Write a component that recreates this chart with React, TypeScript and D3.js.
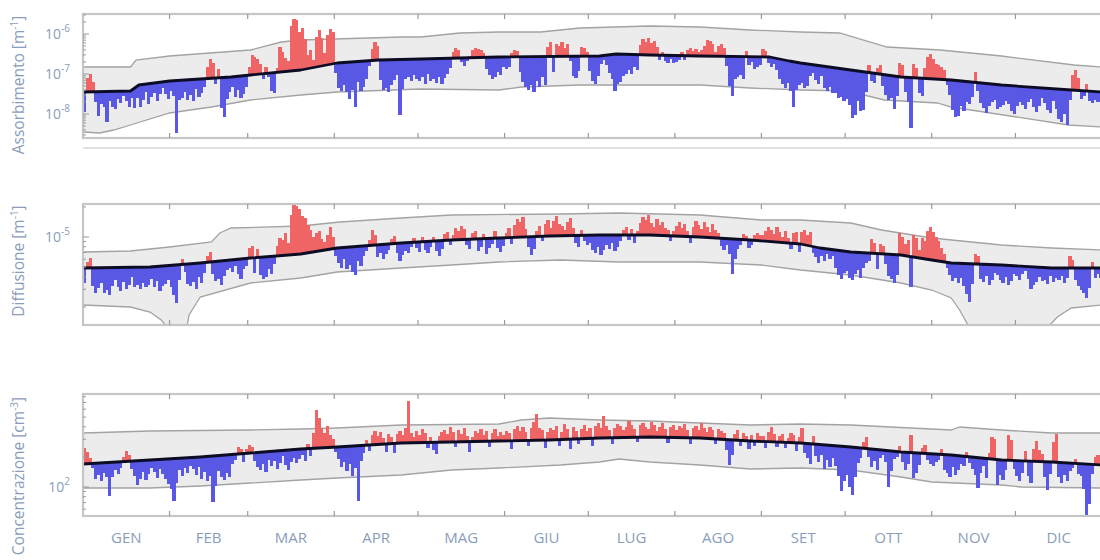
import React from 'react';
import * as d3 from 'd3';

// ---------- calendar ----------
const MONTH_LABELS = ['GEN', 'FEB', 'MAR', 'APR', 'MAG', 'GIU', 'LUG', 'AGO', 'SET', 'OTT', 'NOV', 'DIC'];
const MONTH_START = [0, 31, 59, 90, 120, 151, 181, 212, 243, 273, 304, 334, 365];

// ---------- Assorbimento (log10 of m^-1) ----------
const absorbClimDays = [0, 17, 20, 31, 53, 60, 78, 91, 106, 121, 149, 185, 191, 203, 221, 246, 253, 257, 275, 293, 311, 329, 354, 365];
const absorbClimLog = [-7.45, -7.425, -7.275, -7.175, -7.075, -7.025, -6.9, -6.725, -6.65, -6.625, -6.575, -6.55, -6.5, -6.525, -6.55, -6.575, -6.675, -6.725, -6.9, -7.075, -7.15, -7.275, -7.4, -7.45];
const absorbHighDays = [0, 17, 19, 31, 60, 71, 78, 114, 121, 135, 149, 164, 178, 203, 221, 239, 257, 271, 288, 307, 329, 355, 365];
const absorbHighLog = [-6.825, -6.825, -6.65, -6.55, -6.4, -6.2, -6.15, -6.075, -6.075, -5.975, -5.95, -5.95, -5.85, -5.8, -5.825, -5.9, -5.95, -5.975, -6.325, -6.4, -6.55, -6.775, -6.825];
const absorbLowDays = [0, 6, 11, 17, 31, 46, 60, 78, 91, 121, 149, 157, 178, 221, 239, 257, 274, 287, 306, 311, 353, 365];
const absorbLowLog = [-8.45, -8.475, -8.4, -8.275, -7.975, -7.825, -7.65, -7.525, -7.45, -7.375, -7.4, -7.325, -7.275, -7.275, -7.35, -7.4, -7.425, -7.65, -7.725, -7.825, -8.275, -8.325];
// daily deviation from the climatology, in decades
const absorbDev = [
  -0.5, 0.35, 0.45, 0.25, -0.25, -0.62, -0.3, -0.38, -0.75, -0.25, -0.38, -0.45, -0.2, -0.3, -0.12, -0.25, -0.4, -0.2, -0.5, -0.3, -0.55, -0.38, -0.2, -0.5, -0.35, -0.25, -0.45, -0.3, -0.15, -0.3, -0.45,
  -0.25, -0.38, -1.3, -0.5, -0.45, -0.3, -0.5, -0.38, -0.55, -0.25, -0.45, -0.35, -0.2, 0.3, 0.48, 0.38, -0.15, 0.22, -0.75, -1.0, -0.55, -0.38, -0.25, -0.5, -0.35, -0.55, -0.45, -0.3,
  0.2, 0.5, 0.45, 0.38, 0.25, -0.12, 0.15, -0.1, -0.45, -0.5, 0.12, 0.62, 0.5, 0.35, 0.25, 1.12, 1.3, 1.25, 0.95, 1.05, 0.75, 0.35, 0.45, 0.2, 0.75, 0.92, 0.7, 0.3, 0.75, 0.88, 0.8,
  -0.25, -0.62, -0.7, -0.55, -0.75, -0.92, -0.7, -1.12, -0.5, -0.75, -0.65, -0.45, -0.12, 0.3, 0.45, 0.35, -0.5, -0.75, -0.7, -0.8, -0.62, -0.5, -0.38, -1.38, -0.75, -0.5, -0.45, -0.55, -0.4, -0.5,
  -0.55, -0.45, -0.62, -0.38, -0.55, -0.5, -0.6, -0.45, -0.65, -0.5, -0.38, -0.25, 0.15, 0.25, 0.2, -0.1, -0.2, -0.08, 0.05, 0.2, 0.25, 0.22, 0.18, 0.12, -0.3, -0.45, -0.55, -0.5, -0.38, -0.45, -0.25,
  -0.3, -0.25, 0.1, 0.18, 0.15, -0.38, -0.62, -0.75, -0.82, -0.7, -0.88, -0.62, -0.75, -0.5, -0.7, 0.25, 0.35, -0.38, 0.3, 0.25, 0.35, 0.22, 0.3, -0.12, -0.5, -0.55, -0.38, 0.22, 0.2, 0.1,
  -0.38, -0.62, -0.7, -0.5, -0.2, -0.12, -0.25, -0.45, -0.62, -0.92, -0.75, -0.7, -0.55, -0.5, -0.38, -0.5, -0.3, -0.38, 0.25, 0.4, 0.32, 0.42, 0.3, 0.35, 0.2, -0.12, 0.08, -0.15, -0.2, -0.1, -0.18,
  -0.15, -0.1, 0.08, -0.12, 0.15, 0.2, 0.12, 0.18, 0.1, 0.15, 0.25, 0.4, 0.38, 0.3, 0.1, 0.25, 0.32, 0.2, -0.25, -0.75, -1.0, -0.55, -0.5, -0.45, -0.55, 0.15, -0.2, -0.12, -0.3, -0.25, -0.2,
  0.2, 0.15, -0.15, -0.25, -0.15, -0.3, -0.5, -0.62, -0.7, -0.55, -0.75, -1.12, -0.7, -0.55, -0.5, -0.62, -0.55, -0.3, -0.2, -0.38, -0.45, -0.25, -0.55, -0.62, -0.5, -0.65, -0.62, -0.75, -0.7, -0.8,
  -0.75, -0.88, -1.2, -1.12, -0.75, -1.0, -0.95, -0.5, 0.2, -0.2, -0.25, 0.15, 0.22, -0.3, -0.5, -0.62, -0.55, -0.82, -0.5, 0.35, 0.3, -0.38, -0.62, -1.25, 0.35, 0.25, -0.38, -0.45, 0.25, 0.55, 0.62,
  0.5, 0.38, 0.35, 0.3, 0.25, -0.12, -0.38, -0.75, -0.92, -0.88, -0.62, -0.75, -0.5, -0.55, -0.38, 0.25, -0.2, -0.5, -0.62, -0.75, -0.55, -0.45, -0.38, -0.62, -0.55, -0.5, -0.38, -0.45, -0.62, -0.7,
  -0.5, -0.38, -0.45, -0.55, -0.38, -0.3, -0.5, -0.62, -0.45, -0.25, -0.38, -0.55, -0.62, -0.3, -0.5, -0.75, -0.82, -0.62, -0.88, -0.25, 0.38, 0.5, 0.3, -0.2, -0.12, 0.18, -0.25, -0.3, -0.2, -0.25, -0.15,
];

// ---------- Diffusione (log10 of m^-1) ----------
const scatterClimDays = [0, 24, 42, 60, 78, 91, 114, 132, 149, 167, 185, 203, 221, 239, 257, 264, 275, 293, 304, 311, 329, 347, 365];
const scatterClimLog = [-5.31, -5.3, -5.26, -5.21, -5.17, -5.11, -5.06, -5.03, -5.01, -4.99, -4.98, -4.98, -5.0, -5.03, -5.07, -5.11, -5.15, -5.18, -5.23, -5.26, -5.28, -5.31, -5.31];
const scatterHighDays = [0, 17, 31, 46, 49, 53, 78, 92, 114, 132, 171, 192, 221, 243, 257, 275, 286, 304, 329, 347, 365];
const scatterHighLog = [-5.15, -5.14, -5.1, -5.05, -4.96, -4.91, -4.89, -4.85, -4.81, -4.78, -4.77, -4.76, -4.78, -4.83, -4.83, -4.86, -4.93, -5.01, -5.08, -5.11, -5.13];
const scatterLowDays = [0, 17, 24, 28, 31, 37, 38, 42, 60, 78, 91, 114, 132, 149, 171, 192, 221, 243, 257, 275, 293, 304, 311, 314, 318, 329, 343, 349, 354, 365];
const scatterLowLog = [-5.68, -5.7, -5.75, -5.83, -5.93, -5.93, -5.78, -5.6, -5.46, -5.41, -5.35, -5.31, -5.28, -5.25, -5.23, -5.25, -5.25, -5.28, -5.33, -5.38, -5.46, -5.53, -5.61, -5.73, -5.93, -5.98, -5.98, -5.8, -5.71, -5.68];
const scatterDev = [
  -0.15, 0.06, 0.1, -0.18, -0.25, -0.2, -0.15, -0.25, -0.22, -0.27, -0.18, -0.12, -0.2, -0.24, -0.15, -0.22, -0.18, -0.1, -0.2, -0.18, -0.22, -0.16, -0.2, -0.18, -0.12, -0.2, -0.15, -0.25, -0.2, -0.18, -0.14,
  -0.22, -0.3, -0.38, -0.15, 0.05, -0.08, -0.2, -0.22, -0.18, -0.26, -0.14, -0.2, -0.1, 0.06, 0.1, -0.12, -0.2, -0.18, -0.24, -0.15, -0.1, -0.08, -0.12, -0.06, -0.15, -0.2, -0.1, -0.08,
  0.1, 0.12, -0.15, 0.08, -0.18, -0.22, -0.2, -0.12, -0.18, -0.08, 0.1, 0.18, 0.15, 0.22, 0.12, 0.4, 0.52, 0.48, 0.45, 0.38, 0.35, 0.28, 0.22, 0.15, 0.18, 0.2, 0.12, 0.08, 0.15, 0.22, 0.12,
  -0.08, -0.15, -0.2, -0.12, -0.22, -0.18, -0.25, -0.28, -0.15, -0.2, -0.1, -0.05, 0.06, 0.15, 0.1, -0.12, -0.08, -0.15, -0.1, -0.06, 0.05, 0.08, -0.1, -0.18, -0.12, -0.08, -0.1, -0.05, 0.04, -0.06,
  -0.1, 0.05, -0.08, -0.12, -0.06, 0.04, -0.1, -0.15, -0.08, 0.06, 0.08, -0.05, 0.05, 0.12, 0.09, 0.14, 0.1, -0.06, -0.1, 0.06, 0.08, -0.12, -0.08, 0.05, -0.15, -0.1, -0.06, 0.07, -0.1, -0.14, -0.08,
  0.05, 0.1, -0.06, 0.12, 0.18, 0.15, 0.2, 0.08, -0.1, -0.18, -0.12, 0.06, 0.1, -0.05, 0.12, 0.16, 0.08, 0.15, 0.2, 0.12, 0.1, 0.06, 0.14, 0.18, 0.08, -0.08, -0.12, 0.05, -0.06, -0.1,
  -0.08, -0.15, -0.18, -0.12, -0.2, -0.15, -0.1, -0.14, -0.08, -0.16, -0.12, -0.06, 0.05, 0.08, -0.05, 0.06, -0.08, 0.04, 0.12, 0.18, 0.15, 0.2, 0.12, 0.08, 0.16, 0.1, 0.14, 0.08, 0.06, -0.05, 0.05,
  0.1, 0.14, 0.08, 0.12, 0.06, -0.06, 0.1, 0.16, 0.12, 0.08, 0.15, 0.1, 0.06, 0.14, 0.08, 0.05, -0.08, -0.12, -0.06, -0.15, -0.35, -0.2, -0.1, -0.06, 0.06, 0.04, -0.08, -0.05, 0.05, 0.08, 0.06,
  0.06, 0.1, 0.14, 0.12, 0.08, 0.15, 0.1, 0.06, 0.12, 0.05, -0.06, 0.1, 0.12, -0.08, 0.12, 0.15, 0.1, 0.14, -0.06, -0.1, -0.15, -0.08, -0.12, -0.05, -0.1, -0.06, -0.18, -0.25, -0.28, -0.22,
  -0.2, -0.26, -0.28, -0.22, -0.18, -0.25, -0.15, -0.1, -0.08, 0.14, 0.1, -0.15, 0.1, 0.08, -0.1, -0.22, -0.25, -0.28, -0.2, 0.22, 0.18, 0.12, 0.16, -0.3, 0.22, 0.2, 0.08, 0.2, 0.18, 0.28, 0.33,
  0.28, 0.24, 0.2, 0.14, 0.08, -0.06, -0.12, -0.18, -0.15, -0.2, -0.15, -0.22, -0.3, -0.38, -0.2, 0.1, 0.08, -0.15, -0.18, -0.12, -0.2, -0.15, -0.08, -0.1, -0.15, -0.18, -0.12, -0.2, -0.15, -0.08,
  -0.1, -0.14, -0.08, -0.05, -0.12, -0.22, -0.18, -0.15, -0.1, -0.14, -0.12, -0.16, -0.08, -0.14, -0.1, -0.12, -0.08, -0.15, -0.1, 0.12, 0.08, -0.12, -0.18, -0.22, -0.25, -0.3, -0.2, 0.06, -0.1, -0.06, -0.1,
];

// ---------- Concentrazione (log10 of cm^-3) ----------
const concClimDays = [0, 24, 42, 60, 78, 91, 114, 149, 167, 185, 203, 221, 239, 257, 275, 286, 293, 311, 329, 347, 365];
const concClimLog = [2.23, 2.27, 2.3, 2.34, 2.38, 2.4, 2.44, 2.46, 2.47, 2.49, 2.5, 2.49, 2.46, 2.44, 2.4, 2.37, 2.35, 2.32, 2.27, 2.25, 2.22];
const concHighDays = [0, 24, 60, 78, 91, 114, 149, 157, 167, 185, 203, 221, 239, 257, 275, 311, 314, 329, 347, 365];
const concHighLog = [2.54, 2.56, 2.57, 2.58, 2.59, 2.62, 2.63, 2.67, 2.69, 2.67, 2.66, 2.64, 2.62, 2.63, 2.62, 2.57, 2.6, 2.57, 2.54, 2.54];
const concLowDays = [0, 24, 42, 60, 78, 91, 114, 132, 149, 171, 185, 192, 203, 221, 239, 257, 275, 293, 304, 329, 336, 365];
const concLowLog = [1.99, 1.99, 2.01, 2.04, 2.07, 2.09, 2.12, 2.17, 2.19, 2.22, 2.25, 2.28, 2.25, 2.22, 2.18, 2.19, 2.17, 2.1, 2.05, 2.02, 2.0, 1.99];
const concDev = [
  0.16, 0.12, 0.06, -0.05, -0.16, -0.12, -0.18, -0.1, -0.14, -0.34, -0.15, -0.08, -0.12, -0.06, 0.05, 0.1, 0.06, -0.08, -0.15, -0.24, -0.18, -0.12, -0.2, -0.14, -0.08, -0.12, -0.18, -0.1, -0.15, -0.2, -0.25,
  -0.3, -0.42, -0.25, -0.12, -0.18, -0.1, -0.15, -0.08, -0.12, -0.18, -0.1, -0.22, -0.15, -0.25, -0.2, -0.46, -0.3, -0.15, -0.22, -0.25, -0.18, -0.22, -0.1, -0.06, 0.07, 0.05, -0.08, 0.04,
  0.08, 0.06, -0.08, -0.15, -0.18, -0.12, -0.2, -0.08, -0.15, -0.1, -0.18, -0.12, -0.06, -0.15, -0.2, -0.12, -0.08, -0.14, -0.1, -0.06, -0.12, 0.05, -0.08, 0.15, 0.38, 0.3, 0.2, 0.15, 0.22, 0.12, 0.08,
  -0.05, -0.12, -0.2, -0.15, -0.25, -0.18, -0.3, -0.22, -0.55, -0.15, -0.08, 0.05, -0.06, 0.1, 0.14, 0.08, 0.12, 0.06, -0.08, 0.1, 0.07, -0.1, 0.09, 0.12, 0.08, 0.15, 0.42, 0.1, 0.06, 0.12,
  0.08, 0.14, 0.1, -0.06, 0.05, -0.08, -0.12, 0.06, 0.1, 0.12, 0.08, 0.15, 0.1, -0.05, 0.12, 0.08, 0.14, 0.06, -0.1, 0.05, 0.1, 0.08, 0.12, 0.06, 0.1, -0.06, 0.08, 0.12, 0.05, 0.09, 0.06,
  0.1, 0.08, -0.08, 0.12, 0.15, 0.1, 0.14, 0.08, -0.06, 0.12, 0.18, 0.26, 0.12, 0.1, -0.08, 0.08, 0.12, 0.1, 0.14, -0.06, 0.08, 0.15, 0.1, -0.1, 0.12, 0.08, -0.05, 0.1, 0.14, 0.08,
  0.1, -0.08, 0.12, 0.15, 0.1, 0.22, 0.12, 0.08, -0.06, 0.1, 0.14, 0.12, 0.08, 0.1, 0.16, 0.12, 0.08, -0.05, 0.12, 0.14, 0.1, 0.08, 0.15, 0.12, 0.06, 0.1, 0.14, 0.08, -0.06, 0.1, 0.12,
  0.08, 0.12, 0.1, 0.14, 0.08, -0.06, 0.1, 0.12, 0.08, 0.15, 0.1, 0.06, 0.12, 0.09, -0.05, 0.1, 0.08, 0.06, -0.1, -0.25, -0.15, 0.06, 0.1, -0.06, 0.08, 0.05, -0.08, 0.06, -0.05, 0.08, 0.05,
  0.06, -0.06, 0.1, 0.15, 0.08, -0.05, 0.06, 0.08, -0.06, 0.05, 0.1, 0.08, -0.08, 0.06, 0.15, -0.1, -0.14, -0.2, 0.08, -0.12, -0.18, -0.1, -0.24, -0.15, -0.22, -0.12, -0.2, -0.3, -0.45, -0.35,
  -0.28, -0.4, -0.48, -0.3, -0.15, -0.1, 0.06, 0.12, -0.08, -0.18, -0.12, -0.2, -0.08, -0.05, -0.12, -0.36, -0.2, -0.08, -0.05, 0.06, -0.1, -0.18, -0.12, 0.18, -0.25, -0.2, -0.12, 0.05, 0.08, -0.06, -0.1,
  -0.12, -0.08, -0.06, 0.05, -0.15, -0.18, -0.22, -0.12, -0.2, -0.14, -0.08, -0.1, 0.05, -0.06, -0.12, -0.18, -0.3, -0.15, -0.08, -0.2, 0.06, 0.22, 0.2, -0.25, -0.15, -0.2, -0.1, 0.25, 0.2, -0.08,
  -0.15, -0.2, -0.12, 0.1, -0.15, -0.22, 0.12, 0.2, 0.12, 0.08, -0.15, -0.28, -0.12, 0.2, 0.28, -0.15, -0.2, -0.12, -0.18, -0.08, -0.05, 0.04, -0.1, -0.12, -0.25, -0.55, -0.4, -0.1, 0.08, 0.1, 0.06,
];

// ---------- styling ----------
const TEXT_COLOR = '#8a9dba';
const FONT = "'Open Sans', 'Noto Sans', sans-serif";
const RED = '#ef6464';
const BLUE = '#5858e4';
const BAND_FILL = '#ececec';
const BAND_EDGE = '#a3a3a3';
const FRAME = '#c6c6c6';
const TICK = '#9a9a9a';
const X_LEFT = 83;
const X_RIGHT = 1102;

type Panel = {
  key: string;
  title: string;
  unitSup: string;
  top: number;
  bottom: number;
  logMin: number;
  logMax: number;
  labelCenter: number;
  climDays: number[];
  climLog: number[];
  highDays: number[];
  highLog: number[];
  lowDays: number[];
  lowLog: number[];
  dev: number[];
};

const PANELS: Panel[] = [
  {
    key: 'abs', title: 'Assorbimento [m', unitSup: '-1', top: 14, bottom: 138, logMin: -8.6, logMax: -5.5, labelCenter: 85,
    climDays: absorbClimDays, climLog: absorbClimLog, highDays: absorbHighDays, highLog: absorbHighLog,
    lowDays: absorbLowDays, lowLog: absorbLowLog, dev: absorbDev,
  },
  {
    key: 'sca', title: 'Diffusione [m', unitSup: '-1', top: 204, bottom: 325, logMin: -5.88, logMax: -4.67, labelCenter: 261,
    climDays: scatterClimDays, climLog: scatterClimLog, highDays: scatterHighDays, highLog: scatterHighLog,
    lowDays: scatterLowDays, lowLog: scatterLowLog, dev: scatterDev,
  },
  {
    key: 'con', title: 'Concentrazione [cm', unitSup: '-3', top: 394, bottom: 516, logMin: 1.71, logMax: 2.93, labelCenter: 476,
    climDays: concClimDays, climLog: concClimLog, highDays: concHighDays, highLog: concHighLog,
    lowDays: concLowDays, lowLog: concLowLog, dev: concDev,
  },
];

const x = d3.scaleLinear().domain([0, 365]).range([X_LEFT, X_RIGHT]);

function PanelView({ p }: { p: Panel }) {
  const y = d3.scaleLog().domain([Math.pow(10, p.logMin), Math.pow(10, p.logMax)]).range([p.bottom, p.top]);
  const ly = (l: number) => y(Math.pow(10, l));
  const clim = d3.scaleLinear().domain(p.climDays).range(p.climLog);
  const line = d3.line<[number, number]>().x((d) => x(d[0])).y((d) => ly(d[1]));

  const high = p.highDays.map((d, i) => [d, p.highLog[i]] as [number, number]);
  const low = p.lowDays.map((d, i) => [d, p.lowLog[i]] as [number, number]);
  const climPts = p.climDays.map((d, i) => [d, p.climLog[i]] as [number, number]);
  const bandPath = (line([...high, ...low.slice().reverse()]) || '') + 'Z';

  const bars = p.dev.map((a, d) => {
    const c = clim(d + 0.5);
    const y0 = ly(c);
    const y1 = ly(c + a);
    const x0 = x(d);
    const w = x(d + 1) - x0 + 0.4;
    return (
      <rect key={d} x={x0} width={w} y={Math.min(y0, y1)} height={Math.abs(y1 - y0)} fill={a >= 0 ? RED : BLUE} />
    );
  });

  // log ticks: decades labelled, 2..9 multiples as minor marks
  const ticks: { l: number; major: boolean; exp: number }[] = [];
  for (let k = Math.floor(p.logMin); k <= Math.ceil(p.logMax); k++) {
    for (let m = 1; m <= 9; m++) {
      const l = k + Math.log10(m);
      if (l > p.logMin && l < p.logMax) ticks.push({ l, major: m === 1, exp: k });
    }
  }

  const clipId = `clip-${p.key}`;
  const midY = (p.top + p.bottom) / 2;

  return (
    <g>
      <defs>
        <clipPath id={clipId}>
          <rect x={X_LEFT} y={p.top} width={X_RIGHT - X_LEFT} height={p.bottom - p.top} />
        </clipPath>
      </defs>
      <rect x={X_LEFT} y={p.top} width={X_RIGHT - X_LEFT} height={p.bottom - p.top} fill="#fff" />
      <g clipPath={`url(#${clipId})`}>
        <path d={bandPath} fill={BAND_FILL} stroke="none" />
        <path d={line(high) || ''} fill="none" stroke={BAND_EDGE} strokeWidth={1.3} />
        <path d={line(low) || ''} fill="none" stroke={BAND_EDGE} strokeWidth={1.3} />
        <g shapeRendering="crispEdges">{bars}</g>
        <path d={line(climPts) || ''} fill="none" stroke="#0c0c24" strokeWidth={2.8} strokeLinejoin="round" />
      </g>
      <rect x={X_LEFT} y={p.top} width={X_RIGHT - X_LEFT} height={p.bottom - p.top} fill="none" stroke={FRAME} strokeWidth={2.2} />
      {MONTH_START.slice(1, 12).map((d) => (
        <g key={d}>
          <line x1={x(d)} x2={x(d)} y1={p.top} y2={p.top + 5} stroke={TICK} strokeWidth={1.2} />
          <line x1={x(d)} x2={x(d)} y1={p.bottom} y2={p.bottom - 5} stroke={TICK} strokeWidth={1.2} />
        </g>
      ))}
      {ticks.map((t, i) => (
        <line key={i} x1={X_LEFT} x2={X_LEFT + (t.major ? 6 : 3)} y1={ly(t.l)} y2={ly(t.l)} stroke={TICK} strokeWidth={1} />
      ))}
      {ticks.filter((t) => t.major).map((t) => (
        <text key={`lab${t.exp}`} x={70} y={ly(t.l) + 5} textAnchor="end" fontSize={14} fill={TEXT_COLOR} fontFamily={FONT}>
          10<tspan dy={-7} fontSize={10}>{t.exp < 0 ? `-${-t.exp}` : `${t.exp}`}</tspan>
        </text>
      ))}
      <text transform={`translate(24,${p.labelCenter}) rotate(-90)`} textAnchor="middle" fontSize={15.5} fill={TEXT_COLOR} fontFamily={FONT}>
        {p.title}
        <tspan dy={-6} fontSize={10}>{p.unitSup}</tspan>
        <tspan dy={6}>]</tspan>
      </text>
      {midY > 0 ? null : null}
    </g>
  );
}

export default function App() {
  return (
    <svg width={1100} height={560} style={{ position: 'absolute', left: 0, top: 0, background: '#fff' }}>
      <rect x={0} y={0} width={1100} height={560} fill="#fff" />
      <line x1={X_LEFT} x2={X_RIGHT} y1={148} y2={148} stroke="#d6d6d6" strokeWidth={1.5} />
      {PANELS.map((p) => (
        <PanelView key={p.key} p={p} />
      ))}
      {MONTH_LABELS.map((m, i) => (
        <text key={m} x={x((MONTH_START[i] + MONTH_START[i + 1]) / 2)} y={543} textAnchor="middle" fontSize={15} fill={TEXT_COLOR} fontFamily={FONT}>
          {m}
        </text>
      ))}
    </svg>
  );
}
